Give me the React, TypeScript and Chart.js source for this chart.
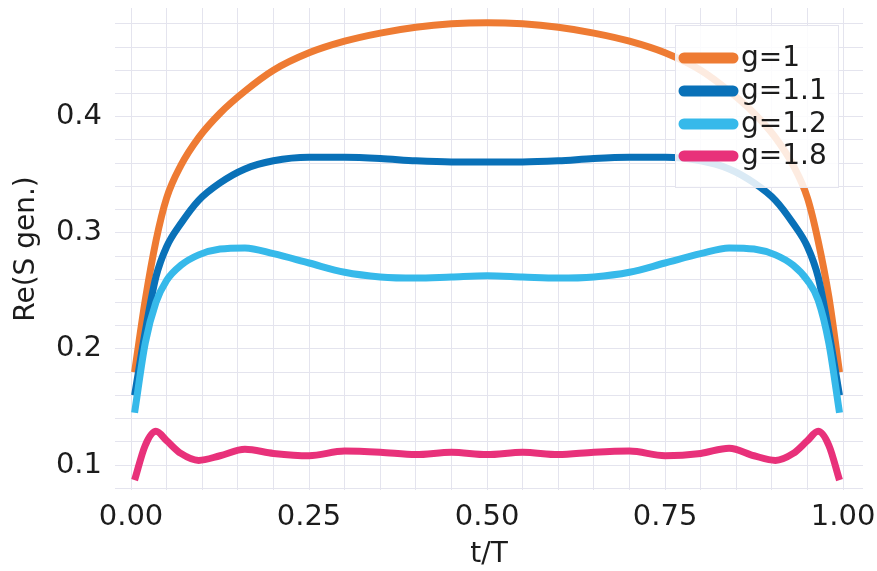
import React, { useEffect, useRef } from "react";
import { Chart, registerables } from "chart.js";

Chart.register(...registerables);

const tValues = [0.005, 0.02, 0.035, 0.05, 0.07, 0.095, 0.125, 0.16, 0.2, 0.25, 0.3, 0.35, 0.4, 0.45, 0.5, 0.55, 0.6, 0.65, 0.7, 0.75, 0.8, 0.84, 0.875, 0.905, 0.93, 0.95, 0.965, 0.98, 0.995];

const g1 = [0.180, 0.242, 0.293, 0.330, 0.358, 0.382, 0.403, 0.422, 0.440, 0.455, 0.465, 0.472, 0.477, 0.480, 0.481, 0.480, 0.477, 0.472, 0.465, 0.455, 0.440, 0.422, 0.403, 0.382, 0.358, 0.330, 0.293, 0.245, 0.180];
const g11 = [0.160, 0.215, 0.262, 0.288, 0.308, 0.328, 0.343, 0.355, 0.362, 0.365, 0.365, 0.364, 0.362, 0.361, 0.361, 0.361, 0.362, 0.364, 0.365, 0.365, 0.362, 0.355, 0.343, 0.328, 0.308, 0.288, 0.262, 0.215, 0.160];
const g12 = [0.145, 0.205, 0.240, 0.259, 0.272, 0.281, 0.286, 0.287, 0.282, 0.274, 0.266, 0.262, 0.261, 0.262, 0.263, 0.262, 0.261, 0.262, 0.266, 0.274, 0.282, 0.287, 0.286, 0.281, 0.272, 0.259, 0.242, 0.205, 0.145];
const g18 = [0.087, 0.117, 0.129, 0.121, 0.110, 0.104, 0.108, 0.1135, 0.110, 0.108, 0.112, 0.111, 0.109, 0.111, 0.109, 0.111, 0.109, 0.111, 0.112, 0.108, 0.110, 0.1145, 0.108, 0.104, 0.110, 0.121, 0.129, 0.117, 0.087];

const seriesLabels = ["g=1", "g=1.1", "g=1.2", "g=1.8"];
const seriesColors = ["#ee7b33", "#0971b8", "#36b9ea", "#e8317a"];

const xGridValues = [0, 0.05, 0.1, 0.15, 0.2, 0.25, 0.3, 0.35, 0.4, 0.45, 0.5, 0.55, 0.6, 0.65, 0.7, 0.75, 0.8, 0.85, 0.9, 0.95, 1.0];
const xTickLabels = [0, 0.25, 0.5, 0.75, 1.0];
const yGridValues = [0.08, 0.1, 0.12, 0.14, 0.16, 0.18, 0.2, 0.22, 0.24, 0.26, 0.28, 0.3, 0.32, 0.34, 0.36, 0.38, 0.4, 0.42, 0.44, 0.46, 0.48];
const yTickLabels = [0.1, 0.2, 0.3, 0.4];

const FONT = "'DejaVu Sans', sans-serif";
const TEXT = "#1c1c1c";
const GRID = "#e4e4ee";

const legendPlugin = {
  id: "customLegend",
  afterDraw(chart: any) {
    const ctx = chart.ctx;
    const bx = 675, by = 25, bw = 164, bh = 163;
    ctx.save();
    ctx.fillStyle = "rgba(255,255,255,0.85)";
    ctx.fillRect(bx, by, bw, bh);
    ctx.strokeStyle = GRID;
    ctx.lineWidth = 1;
    ctx.strokeRect(bx + 0.5, by + 0.5, bw - 1, bh - 1);
    const rows = [58, 91, 124, 156];
    chart.data.datasets.forEach((ds: any, i: number) => {
      const y = rows[i];
      ctx.strokeStyle = ds.borderColor;
      ctx.lineWidth = 11;
      ctx.lineCap = "round";
      ctx.beginPath();
      ctx.moveTo(684, y);
      ctx.lineTo(733, y);
      ctx.stroke();
      ctx.fillStyle = TEXT;
      ctx.font = `28px ${FONT}`;
      ctx.textBaseline = "middle";
      ctx.textAlign = "left";
      ctx.fillText(ds.label, 741, y + 1);
    });
    ctx.restore();
  },
};

export default function App() {
  const ref = useRef<HTMLCanvasElement | null>(null);
  useEffect(() => {
    const canvas = ref.current;
    if (!canvas) return;
    const all = [g1, g11, g12, g18];
    const chart = new Chart(canvas, {
      type: "line",
      data: {
        datasets: all.map((arr, i) => ({
          label: seriesLabels[i],
          data: tValues.map((t, j) => ({ x: t, y: arr[j] })),
          borderColor: seriesColors[i],
          backgroundColor: seriesColors[i],
          borderWidth: 7,
          pointRadius: 0,
          cubicInterpolationMode: "monotone",
          order: 3 - i,
          fill: false,
        })),
      },
      options: {
        responsive: false,
        animation: false,
        layout: { padding: { top: 8, right: 14, left: 0, bottom: 0 } },
        plugins: { legend: { display: false }, tooltip: { enabled: false } },
        scales: {
          x: {
            type: "linear",
            min: -0.0225,
            max: 1.028,
            afterBuildTicks: (axis: any) => {
              axis.ticks = xGridValues.map((v) => ({ value: v }));
            },
            afterFit: (axis: any) => {
              axis.height = 81;
              axis.paddingLeft = 0;
              axis.paddingRight = 0;
            },
            border: { display: false },
            grid: { color: GRID, lineWidth: 1, drawTicks: false },
            ticks: {
              autoSkip: false,
              maxRotation: 0,
              padding: 10,
              color: TEXT,
              font: { family: FONT, size: 29 },
              callback: (v: any) => {
                const n = Number(v);
                return xTickLabels.some((l) => Math.abs(l - n) < 1e-9) ? n.toFixed(2) : "";
              },
            },
            title: {
              display: true,
              text: "t/T",
              color: TEXT,
              font: { family: FONT, size: 28, lineHeight: 1 },
              padding: { top: 0, bottom: 2 },
            },
          },
          y: {
            type: "linear",
            min: 0.0785,
            max: 0.4936,
            afterBuildTicks: (axis: any) => {
              axis.ticks = yGridValues.map((v) => ({ value: v }));
            },
            afterFit: (axis: any) => {
              axis.width = 115;
              axis.paddingTop = 0;
              axis.paddingBottom = 0;
            },
            border: { display: false },
            grid: { color: GRID, lineWidth: 1, drawTicks: false },
            ticks: {
              autoSkip: false,
              padding: 13,
              color: TEXT,
              font: { family: FONT, size: 29 },
              callback: (v: any) => {
                const n = Number(v);
                return yTickLabels.some((l) => Math.abs(l - n) < 1e-9) ? n.toFixed(1) : "";
              },
            },
            title: {
              display: true,
              text: "Re(S gen.)",
              color: TEXT,
              font: { family: FONT, size: 28, lineHeight: 1 },
              padding: { top: 13, bottom: 0 },
            },
          },
        },
      },
      plugins: [legendPlugin],
    } as any);
    return () => chart.destroy();
  }, []);
  return (
    <div style={{ position: "fixed", left: 0, top: 0, width: 877, height: 571, background: "#fff" }}>
      <canvas ref={ref} width={877} height={571} style={{ width: 877, height: 571, display: "block" }} />
    </div>
  );
}
